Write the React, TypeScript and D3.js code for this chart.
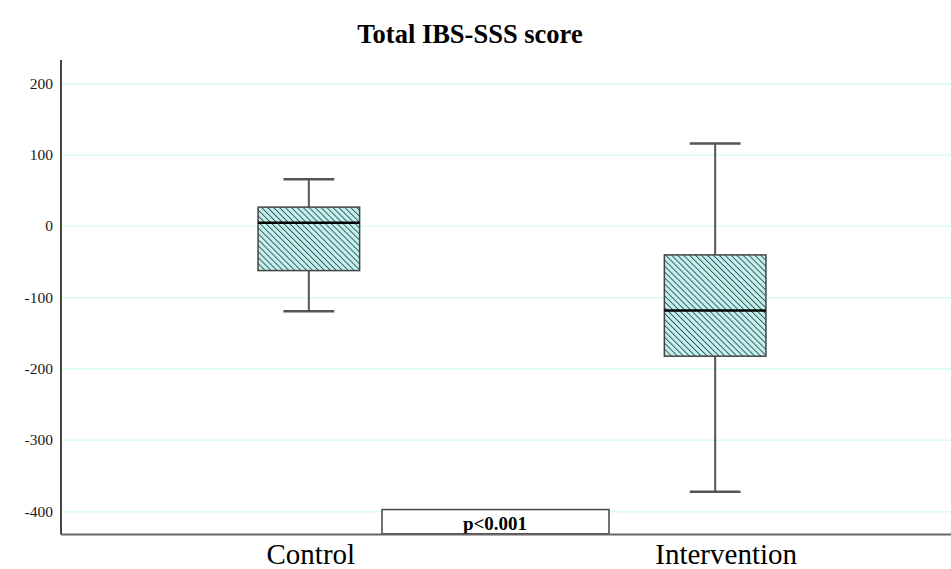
import React from "react";
import * as d3 from "d3";

const categories = ["Control", "Intervention"];
const whiskerMax = [66, 116];
const q3Values = [27, -40];
const medians = [5, -118];
const q1Values = [-62, -182];
const whiskerMin = [-119, -372];
const yTicks = [200, 100, 0, -100, -200, -300, -400];
const title = "Total IBS-SSS score";
const pLabel = "p<0.001";

const W = 951;
const H = 569;

export default function App() {
  const y = d3.scaleLinear().domain([-400, 200]).range([511.7, 83.7]);
  const x = d3.scalePoint<string>().domain(categories).range([61, 963]).padding(0.61);
  const step = x.step();
  const boxW = step * 0.25;
  const capW = step * 0.125;
  const axisX = 61;
  const axisTop = 60;
  const axisBottom = y(-432);
  const labelShift = [2, 11];

  return (
    <svg
      width={W}
      height={H}
      style={{ position: "absolute", left: 0, top: 0, background: "#fff" }}
      fontFamily="'Liberation Serif', 'Times New Roman', serif"
    >
      <defs>
        <pattern id="hatch" patternUnits="userSpaceOnUse" width="4.2" height="4.2" patternTransform="rotate(-45)">
          <rect width="4.2" height="4.2" fill="#bff3f1" />
          <line x1="0" y1="0" x2="0" y2="4.2" stroke="#3e4a4a" strokeWidth="1.8" />
        </pattern>
      </defs>
      <text x={470} y={43} textAnchor="middle" fontWeight="bold" fontSize={26.5} fill="#000">
        {title}
      </text>
      {yTicks.map((t) => (
        <g key={t}>
          <line x1={axisX} x2={W} y1={y(t)} y2={y(t)} stroke="#d8fafa" strokeWidth={1.5} />
          <text x={53} y={y(t) + 5} textAnchor="end" fontSize={15.5} fill="#1a1a1a">
            {t}
          </text>
        </g>
      ))}
      {categories.map((c, i) => {
        const cx = x(c)!;
        return (
          <g key={c}>
            <line x1={cx} x2={cx} y1={y(whiskerMax[i])} y2={y(q3Values[i])} stroke="#555" strokeWidth={2} />
            <line x1={cx} x2={cx} y1={y(q1Values[i])} y2={y(whiskerMin[i])} stroke="#555" strokeWidth={2} />
            <line x1={cx - capW / 2} x2={cx + capW / 2} y1={y(whiskerMax[i])} y2={y(whiskerMax[i])} stroke="#555" strokeWidth={2.5} />
            <line x1={cx - capW / 2} x2={cx + capW / 2} y1={y(whiskerMin[i])} y2={y(whiskerMin[i])} stroke="#555" strokeWidth={2.5} />
            <rect
              x={cx - boxW / 2}
              y={y(q3Values[i])}
              width={boxW}
              height={y(q1Values[i]) - y(q3Values[i])}
              fill="url(#hatch)"
              stroke="#444"
              strokeWidth={1.5}
            />
            <line x1={cx - boxW / 2} x2={cx + boxW / 2} y1={y(medians[i])} y2={y(medians[i])} stroke="#000" strokeWidth={2.5} />
            <text x={cx + labelShift[i]} y={564} textAnchor="middle" fontSize={29} fill="#000">
              {c}
            </text>
          </g>
        );
      })}
      <rect x={382} y={y(-397)} width={227} height={y(-431) - y(-397)} fill="#fff" stroke="#444" strokeWidth={1.5} />
      <text x={495} y={530} textAnchor="middle" fontWeight="bold" fontSize={19} fill="#000">
        {pLabel}
      </text>
      <line x1={axisX} x2={axisX} y1={axisTop} y2={axisBottom} stroke="#444" strokeWidth={2} />
      <line x1={axisX} x2={W} y1={axisBottom} y2={axisBottom} stroke="#666" strokeWidth={2} />
    </svg>
  );
}
